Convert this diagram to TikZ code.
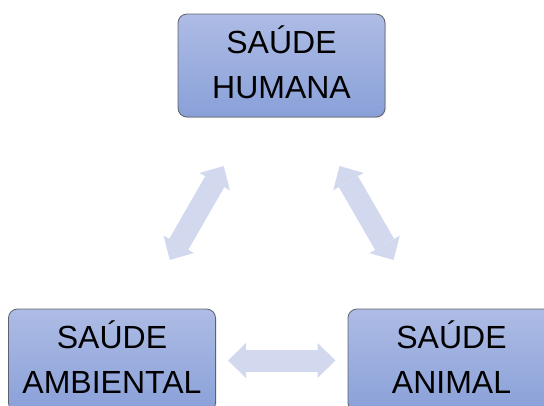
\documentclass[tikz,border=0pt]{standalone}
\usepackage{fontspec}
\setmainfont{Liberation Sans}
\usepackage{xcolor}
\definecolor{azulClaro}{RGB}{174, 188, 229}
\definecolor{azulEscuro}{RGB}{137, 160, 216}
\definecolor{cinza}{RGB}{95, 98, 110}
\definecolor{lavanda}{RGB}{210, 217, 238}
\usepackage{tikz}
\usetikzlibrary{arrows.meta,shadows,positioning}
\tikzstyle{caixa}=[rectangle, draw=cinza, rounded corners=9pt,
                   top color=azulClaro, bottom color=azulEscuro,
                   minimum width=207pt, minimum height=103pt,
                   line width=0.8pt, align=center, inner sep=0pt,
                   text depth=6pt,
                   drop shadow={opacity=0.25, shadow xshift=1pt,
                                shadow yshift=-1pt},
                   font=\fontsize{32}{45}\selectfont]
\tikzstyle{seta}  =[draw=lavanda, line width=22pt,
                    shorten <=116pt, shorten >=116pt,
                    {Triangle[length=18pt,width=35pt,line width=0pt,fill=lavanda]}-{Triangle[length=18pt,width=35pt,line width=0pt,fill=lavanda]}]

\begin{document}
\begin{tikzpicture}[x=1pt,y=-1pt]
    \useasboundingbox (0,0) rectangle (544,405);

    \draw (281.5,65.5) node (humana) [caixa] {SAÚDE\\HUMANA};
    \draw (112,360.5) node (ambiental) [caixa] {SAÚDE\\AMBIENTAL};
    \draw (451.5,360.5) node (animal) [caixa] {SAÚDE\\ANIMAL};

    \foreach \i/\j in {ambiental/humana,humana/animal,ambiental/animal}
        \draw [seta] (\i.center) to (\j.center);

\end{tikzpicture}
\end{document}
